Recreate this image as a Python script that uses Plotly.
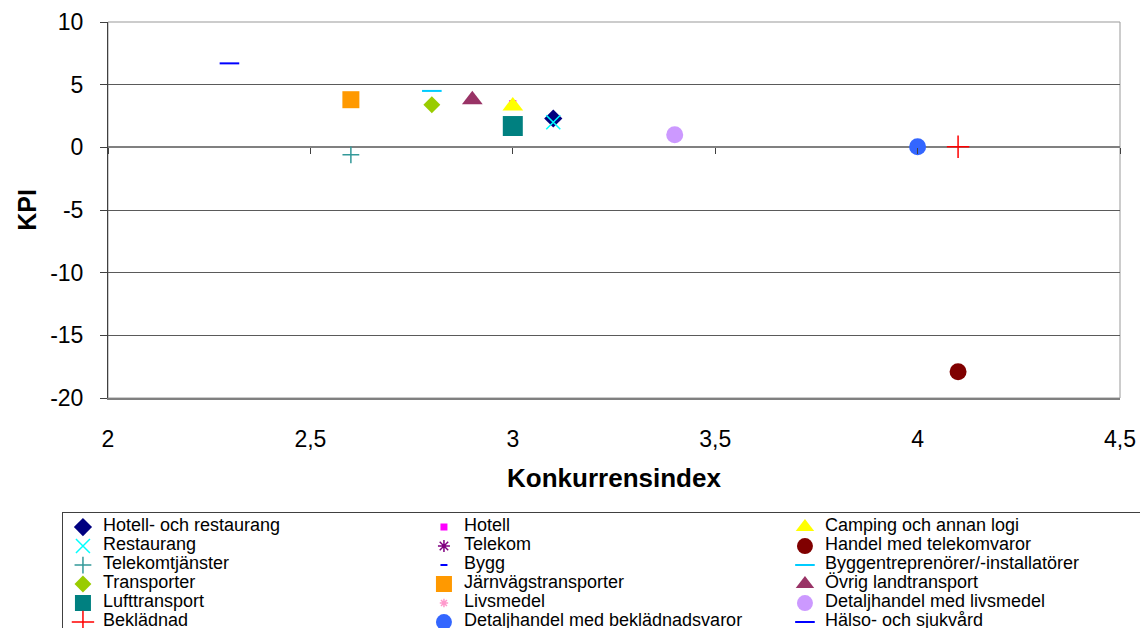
import plotly.graph_objects as go

# Branches: competition index (x) against KPI (y)
categories = [
    "Hotell- och restaurang", "Hotell", "Camping och annan logi",
    "Restaurang", "Telekom", "Handel med telekomvaror",
    "Telekomtjänster", "Bygg", "Byggentreprenörer/-installatörer",
    "Transporter", "Järnvägstransporter", "Övrig landtransport",
    "Lufttransport", "Livsmedel", "Detaljhandel med livsmedel",
    "Beklädnad", "Detaljhandel med beklädnadsvaror", "Hälso- och sjukvård",
]
konkurrensindex = [3.1, 3.0, 3.0, 3.1, None, 4.1, 2.6, None, 2.8,
                   2.8, 2.6, 2.9, 3.0, None, 3.4, 4.1, 4.0, 2.3]
kpi = [2.3, 3.5, 3.3, 2.0, None, -17.9, -0.6, None, 4.5,
       3.4, 3.8, 3.8, 1.7, None, 1.0, 0.05, 0.05, 6.7]

x_ticks = [2, 2.5, 3, 3.5, 4, 4.5]
x_tick_labels = ["2", "2,5", "3", "3,5", "4", "4,5"]
y_ticks = [-20, -15, -10, -5, 0, 5, 10]
y_tick_labels = ["-20", "-15", "-10", "-5", "0", "5", "10"]

# Marker styling per series (symbol, colour, size)
symbols = ["diamond", "square", "triangle-up", "x-thin", "asterisk", "circle",
           "cross-thin", "line-ew", "line-ew", "diamond", "square", "triangle-up",
           "square", "asterisk", "circle", "cross-thin", "circle", "line-ew"]
colors = ["#000080", "#FF00FF", "#FFFF00", "#00FFFF", "#800080", "#800000",
          "#339999", "#0000FF", "#00CCFF", "#99CC00", "#FF9900", "#993366",
          "#008080", "#FF99CC", "#CC99FF", "#FF0000", "#3366FF", "#0000FF"]
sizes = [14, 7, 18, 14, 10, 17, 12, 5, 14, 13, 17, 18, 20, 7, 17, 16, 17, 14]
line_like = {"x-thin", "cross-thin", "line-ew", "asterisk"}

FONT = "Arial, Liberation Sans, sans-serif"

fig = go.Figure()
for cat, xv, yv, sym, col, sz in zip(categories, konkurrensindex, kpi,
                                     symbols, colors, sizes):
    marker = dict(symbol=sym, size=sz, color=col)
    if sym in line_like:
        marker["line"] = dict(color=col, width=2 if sym == "line-ew" else 1.5)
    else:
        marker["line"] = dict(width=0)
    fig.add_trace(go.Scatter(
        x=[xv], y=[yv], mode="markers", marker=marker,
        name=f'<span style="font-size:18px">{cat}</span>',
        hovertemplate=f"{cat}<br>%{{x}}; %{{y}}<extra></extra>",
    ))

# Small tick marks along the zero line
fig.add_trace(go.Scatter(x=[None], y=[None], xaxis="x2", showlegend=False,
                         hoverinfo="skip"))

fig.update_layout(
    width=1140, height=628,
    margin=dict(l=108, r=20, t=22, b=230, autoexpand=False),
    paper_bgcolor="white", plot_bgcolor="white",
    font=dict(family=FONT, color="black"),
    showlegend=True,
    xaxis=dict(
        range=[2, 4.5], tickvals=x_ticks, ticktext=x_tick_labels,
        showgrid=False, zeroline=False,
        showline=True, linecolor="#808080", linewidth=2,
        ticks="", ticklabelstandoff=19,
        tickfont=dict(size=23, family=FONT),
        title=dict(text="<b>Konkurrensindex</b>", font=dict(size=26, family=FONT),
                   standoff=18),
    ),
    xaxis2=dict(
        range=[2, 4.5], tickvals=x_ticks, overlaying="x", anchor="free",
        position=2 / 3, showgrid=False, zeroline=False, showline=False,
        showticklabels=False, ticks="outside", ticklen=6, tickwidth=1,
        tickcolor="#404040",
    ),
    yaxis=dict(
        range=[-20, 10], tickvals=y_ticks, ticktext=y_tick_labels,
        showgrid=True, gridcolor="#5a5a5a",
        gridwidth=1, zeroline=True, zerolinecolor="#808080", zerolinewidth=2,
        showline=True, linecolor="#404040", linewidth=1,
        ticks="outside", ticklen=7, tickcolor="#404040",
        ticklabelstandoff=12,
        tickfont=dict(size=23, family=FONT),
        title=dict(text="<b>KPI</b>", font=dict(size=25, family=FONT), standoff=6),
    ),
    legend=dict(
        orientation="h", x=-0.0455, y=-0.302, xanchor="left", yanchor="top",
        entrywidth=316, entrywidthmode="pixels",
        bgcolor="white", bordercolor="#404040", borderwidth=1,
        font=dict(size=11, family=FONT, color="black"),
    ),
    shapes=[dict(type="rect", xref="paper", yref="paper", x0=0, y0=0, x1=1, y1=1,
                 line=dict(color="#999999", width=1), layer="below")],
)

fig.write_html("out.html")
